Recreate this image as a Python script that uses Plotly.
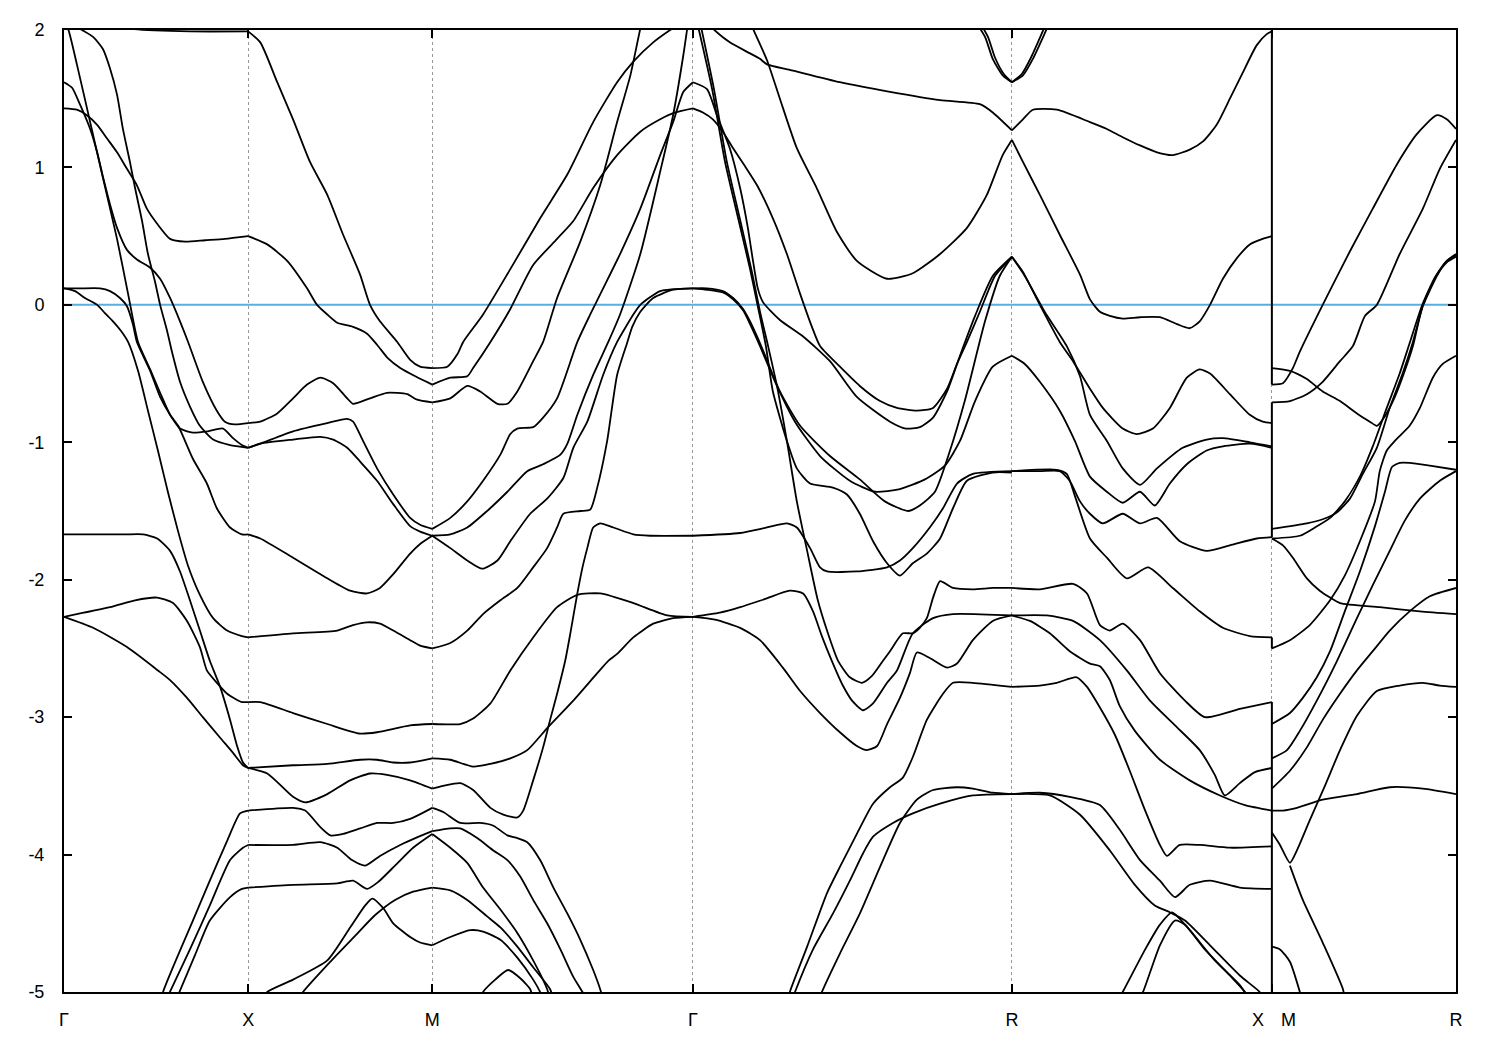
import plotly.graph_objects as go

# ---- axis definitions (k-path in units of 2pi/a) ----
k_ticks = [0.0, 0.5, 1.0, 1.708, 2.574, 3.280, 3.780]
k_labels = ["Γ", "X", "M", "Γ", "R", "", "R"]
e_ticks = [2, 1, 0, -1, -2, -3, -4, -5]
k_XM = 3.280
xm_jumps = [(2.0, -0.58), (-0.71, -1.69), (-2.42, -2.50), (-2.89, -5.0)]

# ---- Gamma -> X ----
gx0 = [(0.152,2.03),(0.179,2.01),(0.342,1.99),(0.5,1.99)]
gx1 = [(0,2.06),(0.011,2.01),(0.035,1.75),(0.071,1.33),(0.106,0.92),(0.144,0.48),(0.174,0.08),(0.201,-0.27),(0.234,-0.47),(0.261,-0.64),(0.288,-0.80),(0.310,-0.88),(0.350,-1.12),(0.388,-1.30),(0.415,-1.48),(0.451,-1.62),(0.483,-1.67),(0.5,-1.67)]
gx2 = [(0,0.12),(0.043,0.12),(0.098,0.12),(0.125,0.10),(0.152,0.05),(0.171,-0.01),(0.187,-0.14),(0.198,-0.27),(0.234,-0.48),(0.261,-0.67),(0.288,-0.80),(0.315,-0.90),(0.350,-0.93),(0.391,-0.92),(0.432,-0.90),(0.459,-0.97),(0.483,-1.02),(0.5,-1.04)]
gx3 = [(0.030,2.04),(0.043,2.01),(0.079,1.95),(0.106,1.86),(0.125,1.72),(0.144,1.53),(0.160,1.28),(0.179,1.04),(0.193,0.85),(0.212,0.61),(0.228,0.37),(0.247,0.17),(0.261,0.0),(0.280,-0.19),(0.293,-0.34),(0.315,-0.56),(0.342,-0.74),(0.369,-0.88),(0.405,-0.98),(0.451,-1.02),(0.5,-1.04)]
gx4 = [(0,0.12),(0.030,0.10),(0.057,0.05),(0.090,0.0),(0.111,-0.06),(0.133,-0.12),(0.155,-0.19),(0.174,-0.27),(0.201,-0.48),(0.228,-0.77),(0.255,-1.06),(0.282,-1.36),(0.310,-1.65),(0.337,-1.90),(0.369,-2.11),(0.405,-2.28),(0.443,-2.37),(0.483,-2.41),(0.5,-2.42)]
gx5 = [(0,1.62),(0.022,1.58),(0.043,1.46),(0.071,1.28),(0.090,1.11),(0.106,0.93),(0.125,0.73),(0.144,0.56),(0.171,0.40),(0.198,0.33),(0.234,0.27),(0.261,0.19),(0.288,0.05),(0.315,-0.12),(0.337,-0.27),(0.377,-0.56),(0.415,-0.77),(0.437,-0.85),(0.464,-0.87),(0.5,-0.86)]
gx6 = [(0,1.43),(0.035,1.42),(0.062,1.38),(0.090,1.31),(0.117,1.21),(0.144,1.11),(0.171,0.99),(0.198,0.87),(0.225,0.70),(0.253,0.59),(0.288,0.48),(0.329,0.46),(0.383,0.47),(0.437,0.48),(0.5,0.50)]
gx7 = [(0,-1.67),(0.098,-1.67),(0.166,-1.67),(0.215,-1.67),(0.253,-1.70),(0.288,-1.79),(0.315,-1.94),(0.342,-2.15),(0.369,-2.37),(0.396,-2.59),(0.424,-2.78),(0.451,-3.02),(0.470,-3.21),(0.486,-3.33),(0.5,-3.37)]
gx8 = [(0,-2.27),(0.125,-2.20),(0.193,-2.15),(0.253,-2.13),(0.296,-2.17),(0.334,-2.30),(0.369,-2.49),(0.388,-2.66),(0.415,-2.75),(0.443,-2.83),(0.483,-2.89),(0.5,-2.89)]
gx9 = [(0,-2.27),(0.079,-2.35),(0.171,-2.49),(0.255,-2.66),(0.288,-2.73),(0.334,-2.86),(0.377,-3.00),(0.424,-3.15),(0.459,-3.26),(0.486,-3.35),(0.5,-3.37)]
gx10 = [(0.266,-5.06),(0.269,-5.0),(0.350,-4.48),(0.396,-4.19),(0.443,-3.90),(0.478,-3.70),(0.5,-3.68)]
gx11 = [(0.277,-5.06),(0.342,-4.69),(0.396,-4.37),(0.451,-4.04),(0.486,-3.95),(0.5,-3.93)]
gx12 = [(0.304,-5.06),(0.356,-4.73),(0.396,-4.48),(0.451,-4.31),(0.483,-4.25),(0.5,-4.24)]

# ---- X -> M ----
xm1 = [(0.5,1.99),(0.533,1.91),(0.579,1.62),(0.622,1.35),(0.668,1.04),(0.715,0.80),(0.758,0.51),(0.804,0.22),(0.831,0.0),(0.858,-0.12),(0.905,-0.27),(0.940,-0.40),(0.967,-0.45),(1.0,-0.46)]
xm2 = [(0.5,0.50),(0.552,0.44),(0.606,0.32),(0.660,0.12),(0.687,0.0),(0.715,-0.07),(0.742,-0.13),(0.785,-0.16),(0.823,-0.21),(0.850,-0.29),(0.880,-0.39),(0.913,-0.46),(0.954,-0.52),(1.0,-0.58)]
xm3 = [(0.5,-0.86),(0.533,-0.85),(0.579,-0.79),(0.622,-0.68),(0.660,-0.58),(0.696,-0.53),(0.731,-0.57),(0.769,-0.68),(0.785,-0.72),(0.831,-0.68),(0.877,-0.64),(0.932,-0.65),(0.959,-0.69),(1.0,-0.71)]
xm4 = [(0.5,-1.04),(0.533,-1.01),(0.622,-0.92),(0.715,-0.86),(0.769,-0.83),(0.785,-0.85),(0.812,-0.99),(0.850,-1.19),(0.894,-1.38),(0.940,-1.55),(0.967,-1.60),(1.0,-1.63)]
xm5 = [(0.5,-1.04),(0.533,-1.01),(0.622,-0.98),(0.696,-0.96),(0.731,-0.98),(0.769,-1.04),(0.804,-1.14),(0.850,-1.28),(0.894,-1.45),(0.940,-1.61),(0.967,-1.65),(1.0,-1.68)]
xm6 = [(0.5,-1.67),(0.533,-1.70),(0.622,-1.84),(0.715,-1.99),(0.777,-2.08),(0.823,-2.10),(0.858,-2.06),(0.894,-1.96),(0.940,-1.81),(0.967,-1.74),(1.0,-1.68)]
xm7 = [(0.5,-2.42),(0.622,-2.39),(0.742,-2.37),(0.785,-2.33),(0.823,-2.31),(0.858,-2.32),(0.894,-2.37),(0.940,-2.44),(0.967,-2.48),(1.0,-2.50)]
xm8 = [(0.5,-2.89),(0.533,-2.89),(0.622,-2.97),(0.715,-3.05),(0.804,-3.12),(0.850,-3.11),(0.940,-3.06),(1.0,-3.05)]
xm9 = [(0.5,-3.37),(0.622,-3.35),(0.715,-3.34),(0.804,-3.31),(0.850,-3.31),(0.894,-3.33),(0.940,-3.33),(1.0,-3.30)]
xm10 = [(0.5,-3.37),(0.552,-3.41),(0.622,-3.58),(0.655,-3.62),(0.715,-3.56),(0.777,-3.46),(0.831,-3.41),(0.877,-3.42),(0.940,-3.46),(1.0,-3.52)]
xm11 = [(0.5,-3.68),(0.622,-3.66),(0.655,-3.68),(0.696,-3.80),(0.723,-3.86),(0.758,-3.85),(0.804,-3.81),(0.850,-3.77),(0.894,-3.77),(0.940,-3.74),(1.0,-3.66)]
xm12 = [(0.5,-3.93),(0.622,-3.93),(0.696,-3.91),(0.742,-3.95),(0.782,-4.04),(0.818,-4.08),(0.858,-4.01),(0.913,-3.93),(0.954,-3.88),(1.0,-3.83)]
xm13 = [(0.5,-4.24),(0.622,-4.22),(0.742,-4.21),(0.785,-4.19),(0.823,-4.25),(0.853,-4.20),(0.899,-4.08),(0.948,-3.95),(1.0,-3.85)]
xm14 = [(0.538,-5.06),(0.552,-5.0),(0.622,-4.91),(0.715,-4.77),(0.777,-4.53),(0.818,-4.37),(0.837,-4.32),(0.867,-4.39),(0.894,-4.50),(0.940,-4.60),(0.967,-4.64),(1.0,-4.66)]
xm15 = [(0.636,-5.06),(0.649,-5.0),(0.723,-4.78),(0.791,-4.59),(0.845,-4.44),(0.899,-4.33),(0.948,-4.27),(1.0,-4.24)]

# ---- M -> Gamma ----
mg1 = [(1.0,-0.46),(1.041,-0.45),(1.068,-0.36),(1.084,-0.27),(1.138,-0.07),(1.212,0.26),(1.293,0.63),(1.367,0.95),(1.437,1.33),(1.502,1.62),(1.546,1.77),(1.600,1.91),(1.646,2.00),(1.687,2.07)]
mg2 = [(1.0,-0.58),(1.049,-0.53),(1.095,-0.52),(1.111,-0.46),(1.158,-0.27),(1.212,-0.03),(1.274,0.29),(1.339,0.48),(1.383,0.61),(1.437,0.85),(1.502,1.09),(1.565,1.26),(1.619,1.35),(1.660,1.40),(1.708,1.43)]
mg3 = [(1.0,-0.71),(1.049,-0.68),(1.095,-0.59),(1.130,-0.63),(1.177,-0.72),(1.204,-0.72),(1.231,-0.63),(1.274,-0.41),(1.301,-0.27),(1.339,0.05),(1.402,0.46),(1.456,0.87),(1.502,1.33),(1.538,1.67),(1.565,2.01),(1.573,2.09)]
mg4 = [(1.0,-1.63),(1.049,-1.55),(1.095,-1.43),(1.138,-1.28),(1.185,-1.09),(1.212,-0.94),(1.231,-0.90),(1.274,-0.89),(1.301,-0.82),(1.339,-0.68),(1.394,-0.27),(1.429,-0.07),(1.464,0.12),(1.510,0.37),(1.565,0.70),(1.619,1.09),(1.654,1.33),(1.682,1.55),(1.708,1.62)]
mg5 = [(1.0,-1.68),(1.049,-1.67),(1.095,-1.62),(1.149,-1.50),(1.204,-1.36),(1.258,-1.21),(1.301,-1.16),(1.348,-1.09),(1.367,-1.01),(1.394,-0.80),(1.437,-0.51),(1.478,-0.27),(1.510,-0.07),(1.565,0.37),(1.619,0.97),(1.654,1.38),(1.682,1.82),(1.695,2.06)]
mg6 = [(1.0,-1.68),(1.049,-1.77),(1.095,-1.86),(1.136,-1.92),(1.177,-1.86),(1.212,-1.72),(1.266,-1.52),(1.312,-1.41),(1.356,-1.26),(1.383,-1.04),(1.421,-0.85),(1.464,-0.51),(1.502,-0.27),(1.519,-0.19),(1.546,-0.07),(1.565,0.0),(1.619,0.10),(1.708,0.12)]
mg7 = [(1.0,-2.50),(1.049,-2.46),(1.095,-2.37),(1.138,-2.25),(1.185,-2.15),(1.231,-2.06),(1.274,-1.91),(1.312,-1.77),(1.339,-1.62),(1.356,-1.52),(1.402,-1.50),(1.429,-1.49),(1.448,-1.33),(1.475,-0.99),(1.502,-0.51),(1.530,-0.27),(1.543,-0.16),(1.565,-0.05),(1.600,0.05),(1.654,0.11),(1.708,0.12)]
mg8 = [(1.0,-3.05),(1.076,-3.05),(1.111,-3.01),(1.158,-2.90),(1.212,-2.66),(1.274,-2.42),(1.339,-2.20),(1.394,-2.11),(1.456,-2.10),(1.546,-2.17),(1.638,-2.26),(1.708,-2.27)]
mg9 = [(1.0,-3.30),(1.049,-3.31),(1.111,-3.36),(1.158,-3.34),(1.212,-3.30),(1.258,-3.24),(1.312,-3.08),(1.383,-2.88),(1.448,-2.68),(1.478,-2.59),(1.502,-2.54),(1.546,-2.42),(1.600,-2.32),(1.654,-2.28),(1.708,-2.27)]
mg10 = [(1.0,-3.52),(1.030,-3.50),(1.076,-3.48),(1.111,-3.53),(1.158,-3.66),(1.193,-3.71),(1.231,-3.73),(1.247,-3.68),(1.274,-3.46),(1.301,-3.22),(1.320,-3.02),(1.339,-2.83),(1.361,-2.59),(1.375,-2.39),(1.394,-2.10),(1.408,-1.91),(1.421,-1.77),(1.437,-1.62),(1.456,-1.59),(1.492,-1.62),(1.546,-1.67),(1.592,-1.68),(1.708,-1.68)]
mg11 = [(1.0,-3.66),(1.030,-3.69),(1.076,-3.77),(1.130,-3.77),(1.166,-3.79),(1.204,-3.86),(1.231,-3.88),(1.258,-3.91),(1.293,-4.04),(1.329,-4.24),(1.367,-4.43),(1.402,-4.62),(1.437,-4.84),(1.456,-4.98),(1.464,-5.06)]
mg12 = [(1.0,-3.83),(1.049,-3.81),(1.076,-3.81),(1.122,-3.88),(1.166,-3.97),(1.204,-4.04),(1.239,-4.16),(1.274,-4.33),(1.312,-4.50),(1.348,-4.69),(1.383,-4.89),(1.408,-5.0),(1.419,-5.06)]
mg13 = [(1.0,-3.85),(1.049,-3.95),(1.095,-4.06),(1.138,-4.24),(1.185,-4.40),(1.231,-4.57),(1.274,-4.77),(1.312,-4.98),(1.320,-5.06)]
mg14 = [(1.0,-4.24),(1.049,-4.26),(1.095,-4.33),(1.149,-4.45),(1.185,-4.53),(1.231,-4.67),(1.274,-4.82),(1.320,-4.98),(1.329,-5.06)]
mg15 = [(1.0,-4.66),(1.049,-4.60),(1.103,-4.55),(1.138,-4.56),(1.185,-4.62),(1.231,-4.75),(1.274,-4.91),(1.293,-5.0),(1.301,-5.06)]
mg16 = [(1.130,-5.06),(1.138,-5.0),(1.171,-4.91),(1.206,-4.84),(1.239,-4.90),(1.266,-4.98),(1.274,-5.06)]

# ---- Gamma -> R ----
gr1 = [(1.741,2.07),(1.762,2.01),(1.808,1.91),(1.863,1.83),(1.890,1.79),(1.909,1.75),(1.971,1.71),(2.107,1.62),(2.243,1.55),(2.379,1.49),(2.487,1.46),(2.522,1.40),(2.574,1.27)]
gr2 = [(1.863,2.07),(1.871,2.01),(1.909,1.78),(1.944,1.50),(1.990,1.14),(2.044,0.85),(2.099,0.53),(2.153,0.32),(2.235,0.19),(2.305,0.23),(2.379,0.37),(2.452,0.56),(2.506,0.80),(2.549,1.09),(2.574,1.20)]
gr3 = [(2.468,2.09),(2.501,1.95),(2.522,1.79),(2.549,1.67),(2.574,1.62)]
gr4 = [(2.479,2.09),(2.509,1.95),(2.528,1.80),(2.552,1.68),(2.574,1.62)]
gr5 = [(1.708,1.43),(1.735,1.40),(1.762,1.35),(1.789,1.26),(1.817,1.14),(1.849,1.01),(1.882,0.87),(1.925,0.63),(1.963,0.37),(1.999,0.08),(2.031,-0.16),(2.053,-0.30),(2.107,-0.45),(2.161,-0.59),(2.216,-0.70),(2.262,-0.75),(2.316,-0.77),(2.360,-0.75),(2.398,-0.61),(2.425,-0.43),(2.452,-0.27),(2.487,-0.05),(2.528,0.21),(2.574,0.35)]
gr6 = [(1.708,1.62),(1.746,1.57),(1.773,1.38),(1.808,1.14),(1.836,0.85),(1.857,0.56),(1.871,0.32),(1.884,0.12),(1.898,0.02),(1.944,-0.11),(2.007,-0.23),(2.080,-0.41),(2.153,-0.67),(2.243,-0.85),(2.286,-0.90),(2.324,-0.89),(2.360,-0.82),(2.398,-0.63),(2.433,-0.37),(2.474,-0.08),(2.522,0.21),(2.574,0.35)]
gr7 = [(1.708,0.12),(1.746,0.12),(1.789,0.10),(1.817,0.05),(1.844,-0.03),(1.863,-0.12),(1.882,-0.23),(1.904,-0.37),(1.944,-0.63),(1.999,-0.88),(2.080,-1.10),(2.161,-1.27),(2.229,-1.43),(2.292,-1.50),(2.324,-1.46),(2.365,-1.36),(2.406,-1.06),(2.446,-0.70),(2.501,-0.12),(2.541,0.21),(2.574,0.35)]
gr8 = [(1.708,0.12),(1.746,0.11),(1.789,0.09),(1.817,0.04),(1.844,-0.04),(1.863,-0.14),(1.890,-0.30),(1.931,-0.56),(1.985,-0.85),(2.053,-1.10),(2.134,-1.28),(2.202,-1.36),(2.270,-1.34),(2.338,-1.27),(2.392,-1.17),(2.433,-0.99),(2.474,-0.70),(2.522,-0.45),(2.574,-0.37)]
gr9 = [(1.719,2.06),(1.760,1.57),(1.795,1.04),(1.836,0.57),(1.863,0.26),(1.884,-0.01),(1.906,-0.30),(1.925,-0.63),(1.963,-0.99),(1.990,-1.19),(2.026,-1.30),(2.088,-1.33),(2.126,-1.38),(2.161,-1.52),(2.197,-1.72),(2.235,-1.88),(2.270,-1.97),(2.305,-1.88),(2.343,-1.81),(2.379,-1.70),(2.414,-1.48),(2.452,-1.28),(2.522,-1.22),(2.574,-1.22)]
gr10 = [(1.727,2.06),(1.765,1.57),(1.800,1.04),(1.841,0.56),(1.868,0.24),(1.890,-0.05),(1.912,-0.30),(1.936,-0.59),(1.963,-0.99),(1.990,-1.43),(2.018,-1.79),(2.047,-2.15),(2.072,-2.37),(2.102,-2.59),(2.134,-2.71),(2.167,-2.75),(2.194,-2.70),(2.224,-2.59),(2.243,-2.52),(2.278,-2.39),(2.305,-2.39),(2.324,-2.35),(2.343,-2.28),(2.360,-2.13),(2.379,-2.01),(2.414,-2.06),(2.468,-2.07),(2.522,-2.06),(2.574,-2.06)]
gr11 = [(1.708,-1.68),(1.836,-1.66),(1.909,-1.62),(1.963,-1.59),(1.990,-1.62),(2.026,-1.77),(2.053,-1.91),(2.072,-1.94),(2.153,-1.94),(2.235,-1.91),(2.270,-1.86),(2.305,-1.77),(2.351,-1.62),(2.387,-1.48),(2.425,-1.30),(2.468,-1.23),(2.574,-1.21)]
gr12 = [(1.708,-2.27),(1.781,-2.24),(1.836,-2.20),(1.904,-2.14),(1.971,-2.08),(2.007,-2.10),(2.034,-2.23),(2.058,-2.41),(2.085,-2.59),(2.115,-2.77),(2.140,-2.88),(2.170,-2.95),(2.197,-2.90),(2.235,-2.75),(2.262,-2.66),(2.305,-2.39),(2.360,-2.28),(2.414,-2.25),(2.574,-2.26)]
gr13 = [(1.708,-2.27),(1.768,-2.29),(1.836,-2.35),(1.890,-2.44),(1.952,-2.64),(1.999,-2.81),(2.053,-2.97),(2.107,-3.11),(2.153,-3.21),(2.180,-3.24),(2.208,-3.21),(2.235,-3.05),(2.270,-2.86),(2.297,-2.68),(2.316,-2.53),(2.351,-2.57),(2.398,-2.64),(2.425,-2.61),(2.468,-2.44),(2.522,-2.30),(2.574,-2.26)]
gr14 = [(1.966,-5.06),(1.971,-5.0),(2.018,-4.67),(2.072,-4.28),(2.107,-4.09),(2.153,-3.85),(2.197,-3.63),(2.243,-3.51),(2.278,-3.44),(2.305,-3.29),(2.343,-3.02),(2.387,-2.83),(2.414,-2.75),(2.468,-2.75),(2.574,-2.78)]
gr15 = [(1.977,-5.06),(1.985,-5.0),(2.034,-4.69),(2.088,-4.43),(2.134,-4.19),(2.170,-3.99),(2.197,-3.87),(2.251,-3.77),(2.305,-3.70),(2.379,-3.63),(2.468,-3.57),(2.574,-3.56)]
gr16 = [(2.050,-5.06),(2.058,-5.0),(2.107,-4.72),(2.161,-4.43),(2.216,-4.09),(2.270,-3.77),(2.316,-3.60),(2.360,-3.53),(2.425,-3.51),(2.468,-3.52),(2.522,-3.55),(2.574,-3.56)]

# ---- R -> X ----
rx1 = [(2.574,1.27),(2.604,1.35),(2.631,1.42),(2.696,1.42),(2.786,1.33),(2.832,1.28),(2.875,1.22),(2.922,1.16),(2.968,1.11),(3.011,1.09),(3.057,1.13),(3.093,1.19),(3.130,1.31),(3.166,1.50),(3.201,1.69),(3.239,1.89),(3.266,1.97),(3.280,1.99)]
rx2 = [(2.574,1.20),(2.604,1.04),(2.650,0.80),(2.704,0.51),(2.759,0.22),(2.786,0.04),(2.813,-0.05),(2.840,-0.08),(2.875,-0.10),(2.922,-0.09),(2.976,-0.09),(3.022,-0.14),(3.057,-0.17),(3.084,-0.12),(3.112,0.0),(3.147,0.19),(3.185,0.34),(3.220,0.44),(3.255,0.48),(3.280,0.50)]
rx3 = [(2.574,1.62),(2.604,1.67),(2.631,1.79),(2.669,2.01),(2.683,2.09)]
rx4 = [(2.574,1.62),(2.601,1.68),(2.626,1.80),(2.661,2.01),(2.675,2.09)]
rx5 = [(2.574,0.35),(2.604,0.24),(2.650,0.0),(2.704,-0.27),(2.740,-0.41),(2.786,-0.61),(2.821,-0.75),(2.875,-0.90),(2.913,-0.94),(2.957,-0.90),(3.003,-0.75),(3.049,-0.53),(3.084,-0.47),(3.112,-0.50),(3.166,-0.65),(3.220,-0.80),(3.255,-0.85),(3.280,-0.86)]
rx6 = [(2.574,0.35),(2.609,0.21),(2.663,-0.05),(2.723,-0.30),(2.759,-0.52),(2.786,-0.80),(2.832,-0.99),(2.875,-1.19),(2.922,-1.31),(2.968,-1.19),(3.038,-1.04),(3.103,-0.98),(3.147,-0.97),(3.220,-1.00),(3.280,-1.03)]
rx7 = [(2.574,-0.37),(2.609,-0.43),(2.650,-0.56),(2.704,-0.77),(2.745,-0.99),(2.786,-1.25),(2.832,-1.36),(2.875,-1.44),(2.922,-1.36),(2.962,-1.46),(3.003,-1.30),(3.049,-1.16),(3.103,-1.06),(3.147,-1.03),(3.220,-1.01),(3.280,-1.04)]
rx8 = [(2.574,-1.21),(2.650,-1.21),(2.704,-1.21),(2.731,-1.28),(2.759,-1.43),(2.786,-1.52),(2.821,-1.59),(2.875,-1.52),(2.922,-1.59),(2.968,-1.55),(3.030,-1.72),(3.103,-1.79),(3.166,-1.75),(3.239,-1.70),(3.280,-1.69)]
rx9 = [(2.574,-1.21),(2.696,-1.20),(2.723,-1.23),(2.745,-1.39),(2.786,-1.70),(2.832,-1.84),(2.886,-1.99),(2.944,-1.91),(3.011,-2.06),(3.084,-2.23),(3.147,-2.35),(3.220,-2.41),(3.280,-2.42)]
rx10 = [(2.574,-2.06),(2.650,-2.07),(2.740,-2.03),(2.778,-2.10),(2.813,-2.33),(2.840,-2.37),(2.875,-2.32),(2.922,-2.44),(2.976,-2.68),(3.044,-2.88),(3.098,-3.00),(3.193,-2.94),(3.280,-2.89)]
rx11 = [(2.574,-2.26),(2.669,-2.26),(2.740,-2.30),(2.813,-2.44),(2.886,-2.66),(2.949,-2.88),(3.017,-3.06),(3.084,-3.24),(3.125,-3.42),(3.152,-3.57),(3.193,-3.48),(3.234,-3.40),(3.280,-3.37)]
rx12 = [(2.574,-2.26),(2.623,-2.30),(2.677,-2.39),(2.731,-2.52),(2.786,-2.61),(2.813,-2.63),(2.840,-2.73),(2.867,-2.92),(2.908,-3.10),(2.976,-3.31),(3.057,-3.46),(3.139,-3.57),(3.207,-3.64),(3.280,-3.68)]
rx13 = [(2.574,-2.78),(2.650,-2.77),(2.696,-2.75),(2.750,-2.71),(2.778,-2.78),(2.813,-2.93),(2.854,-3.13),(2.894,-3.39),(2.936,-3.68),(2.976,-3.93),(2.995,-4.01),(3.030,-3.93),(3.084,-3.93),(3.166,-3.95),(3.280,-3.94)]
rx14 = [(2.574,-3.56),(2.650,-3.55),(2.731,-3.58),(2.813,-3.64),(2.867,-3.82),(2.922,-4.04),(2.976,-4.19),(3.017,-4.31),(3.057,-4.22),(3.112,-4.19),(3.193,-4.24),(3.280,-4.25)]
rx15 = [(2.574,-3.56),(2.677,-3.57),(2.759,-3.71),(2.840,-3.97),(2.908,-4.22),(2.962,-4.37),(3.003,-4.42),(3.044,-4.48),(3.112,-4.66),(3.193,-4.88),(3.247,-5.0),(3.261,-5.06)]
rx16 = [(2.862,-5.06),(2.875,-5.0),(2.936,-4.69),(2.976,-4.51),(3.009,-4.42),(3.057,-4.55),(3.125,-4.77),(3.193,-4.95),(3.220,-5.06)]
rx17 = [(2.916,-5.06),(2.930,-5.0),(2.976,-4.66),(3.017,-4.48),(3.044,-4.51),(3.098,-4.69),(3.166,-4.88),(3.207,-5.0),(3.220,-5.06)]

# ---- M -> R ----
mr1 = [(3.280,-0.58),(3.310,-0.57),(3.337,-0.46),(3.356,-0.34),(3.418,0.0),(3.492,0.39),(3.554,0.70),(3.619,1.02),(3.673,1.24),(3.728,1.38),(3.755,1.35),(3.780,1.28)]
mr2 = [(3.280,-0.71),(3.329,-0.70),(3.375,-0.65),(3.418,-0.56),(3.465,-0.41),(3.500,-0.30),(3.533,-0.08),(3.565,0.0),(3.627,0.37),(3.690,0.70),(3.736,0.99),(3.780,1.20)]
mr3 = [(3.280,-0.46),(3.329,-0.48),(3.375,-0.54),(3.418,-0.63),(3.465,-0.70),(3.511,-0.79),(3.546,-0.85),(3.565,-0.88),(3.587,-0.81),(3.614,-0.67),(3.641,-0.48),(3.663,-0.30),(3.690,0.0),(3.728,0.22),(3.755,0.32),(3.780,0.37)]
mr4 = [(3.280,-1.63),(3.375,-1.59),(3.418,-1.56),(3.457,-1.51),(3.492,-1.41),(3.527,-1.23),(3.565,-1.04),(3.600,-0.75),(3.635,-0.50),(3.663,-0.27),(3.690,-0.01),(3.728,0.21),(3.755,0.32),(3.780,0.36)]
mr5 = [(3.280,-1.70),(3.356,-1.68),(3.397,-1.62),(3.438,-1.55),(3.478,-1.43),(3.519,-1.25),(3.554,-1.03),(3.592,-0.75),(3.627,-0.50),(3.654,-0.28),(3.687,-0.01),(3.725,0.21),(3.755,0.31),(3.780,0.35)]
mr6 = [(3.280,-1.70),(3.310,-1.75),(3.337,-1.84),(3.375,-1.99),(3.410,-2.08),(3.438,-2.13),(3.465,-2.17),(3.573,-2.20),(3.682,-2.23),(3.780,-2.25)]
mr7 = [(3.280,-2.50),(3.329,-2.44),(3.383,-2.33),(3.438,-2.15),(3.478,-1.97),(3.519,-1.72),(3.560,-1.43),(3.573,-1.21),(3.592,-1.06),(3.614,-0.99),(3.654,-0.88),(3.682,-0.75),(3.717,-0.53),(3.744,-0.43),(3.780,-0.37)]
mr8 = [(3.280,-3.05),(3.329,-2.97),(3.364,-2.86),(3.402,-2.71),(3.438,-2.52),(3.478,-2.23),(3.519,-1.94),(3.560,-1.61),(3.587,-1.36),(3.606,-1.18),(3.627,-1.15),(3.654,-1.15),(3.709,-1.17),(3.780,-1.20)]
mr9 = [(3.280,-3.30),(3.321,-3.24),(3.356,-3.10),(3.402,-2.88),(3.457,-2.59),(3.511,-2.28),(3.554,-2.04),(3.600,-1.79),(3.641,-1.57),(3.682,-1.41),(3.736,-1.28),(3.780,-1.21)]
mr10 = [(3.280,-3.52),(3.329,-3.39),(3.375,-3.22),(3.418,-3.02),(3.465,-2.83),(3.511,-2.66),(3.554,-2.52),(3.600,-2.37),(3.654,-2.23),(3.709,-2.12),(3.780,-2.06)]
mr11 = [(3.280,-3.68),(3.310,-3.68),(3.348,-3.66),(3.418,-3.60),(3.511,-3.56),(3.600,-3.51),(3.690,-3.52),(3.780,-3.56)]
mr12 = [(3.280,-3.84),(3.302,-3.93),(3.329,-4.06),(3.348,-3.97),(3.383,-3.75),(3.424,-3.50),(3.465,-3.24),(3.511,-2.99),(3.565,-2.81),(3.627,-2.77),(3.690,-2.75),(3.736,-2.77),(3.780,-2.78)]
mr13 = [(3.329,-4.08),(3.364,-4.33),(3.418,-4.64),(3.473,-4.98),(3.478,-5.06)]
mr14 = [(3.280,-4.67),(3.302,-4.69),(3.329,-4.78),(3.356,-5.0),(3.362,-5.06)]

bands = [gx0, gx1, gx2, gx3, gx4, gx5, gx6, gx7, gx8, gx9, gx10, gx11, gx12,
         xm1, xm2, xm3, xm4, xm5, xm6, xm7, xm8, xm9, xm10, xm11, xm12, xm13, xm14, xm15,
         mg1, mg2, mg3, mg4, mg5, mg6, mg7, mg8, mg9, mg10, mg11, mg12, mg13, mg14, mg15, mg16,
         gr1, gr2, gr3, gr4, gr5, gr6, gr7, gr8, gr9, gr10, gr11, gr12, gr13, gr14, gr15, gr16,
         rx1, rx2, rx3, rx4, rx5, rx6, rx7, rx8, rx9, rx10, rx11, rx12, rx13, rx14, rx15, rx16, rx17,
         mr1, mr2, mr3, mr4, mr5, mr6, mr7, mr8, mr9, mr10, mr11, mr12, mr13, mr14]

FONT = "Liberation Sans, Arial, sans-serif"
fig = go.Figure()

# Fermi level
fig.add_trace(go.Scatter(x=[k_ticks[0], k_ticks[-1]], y=[0, 0], mode="lines",
                         line=dict(color="#56B0E4", width=2), hoverinfo="skip", showlegend=False))

for b in bands:
    ks = [p[0] for p in b]
    es = [p[1] for p in b]
    fig.add_trace(go.Scatter(x=ks, y=es, mode="lines",
                             line=dict(color="black", width=1.8, shape="spline", smoothing=0.6),
                             hoverinfo="skip", showlegend=False))

for e_top, e_bot in xm_jumps:
    fig.add_trace(go.Scatter(x=[k_XM, k_XM], y=[e_top, e_bot], mode="lines",
                             line=dict(color="black", width=2), hoverinfo="skip", showlegend=False))

fig.update_layout(
    width=1492, height=1042,
    margin=dict(l=56, r=44, t=20, b=58),
    paper_bgcolor="white", plot_bgcolor="white",
    font=dict(family=FONT, size=18, color="black"),
    xaxis=dict(range=[k_ticks[0], k_ticks[-1]], tickvals=k_ticks, ticktext=k_labels,
               showgrid=True, gridcolor="#999999", griddash="dot", gridwidth=1,
               zeroline=False, showline=True, linecolor="black", linewidth=2, mirror="ticks",
               ticks="inside", ticklen=8, tickwidth=2, tickcolor="black",
               ticklabelstandoff=10, tickfont=dict(family=FONT, size=18)),
    yaxis=dict(range=[-5, 2], tickvals=e_ticks, ticktext=[str(v) for v in e_ticks],
               showgrid=False, zeroline=False, showline=True, linecolor="black", linewidth=2,
               mirror="ticks", ticks="inside", ticklen=8, tickwidth=2, tickcolor="black",
               ticklabelstandoff=14, tickfont=dict(family=FONT, size=18)),
)

# split X | M label at the discontinuity
fig.add_annotation(x=k_XM - 0.038, y=0, xref="x", yref="paper", text="X", showarrow=False,
                   yanchor="top", yshift=-16, font=dict(family=FONT, size=18))
fig.add_annotation(x=k_XM + 0.044, y=0, xref="x", yref="paper", text="M", showarrow=False,
                   yanchor="top", yshift=-16, font=dict(family=FONT, size=18))

fig.write_html("out.html")
